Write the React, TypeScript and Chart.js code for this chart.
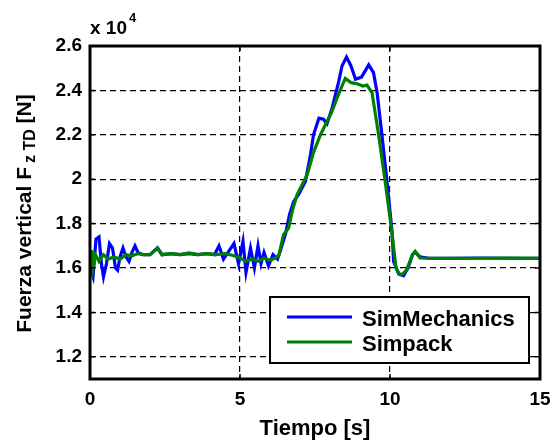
import React, { useEffect, useRef } from "react";
import { Chart, registerables } from "chart.js";

Chart.register(...registerables);

// Axis ticks (force in units of 10^4 N)
const xTicks = [0, 5, 10, 15];
const yTicks = [1.2, 1.4, 1.6, 1.8, 2.0, 2.2, 2.4, 2.6];
const seriesLabels = ["SimMechanics", "Simpack"];
const seriesColors = ["#0000ff", "#008000"];

// SimMechanics: time [s] and force [x10^4 N]
const simMechT = [
  0, 0.05, 0.1, 0.2, 0.3, 0.38, 0.45, 0.55, 0.65, 0.75, 0.85, 0.92, 1.0, 1.1, 1.2, 1.3, 1.4, 1.5,
  1.6, 1.75, 2.0, 2.25, 2.4, 2.7, 3.0, 3.3, 3.6, 3.9, 4.15, 4.3, 4.45, 4.6, 4.8, 4.95, 5.1, 5.2,
  5.35, 5.48, 5.6, 5.7, 5.8, 5.95, 6.1, 6.25, 6.35, 6.52, 6.65, 6.79, 6.95, 7.18, 7.35, 7.45,
  7.63, 7.78, 7.9, 8.07, 8.29, 8.4, 8.55, 8.7, 8.85, 9.05, 9.29, 9.45, 9.57, 9.73, 9.9, 10.07,
  10.12, 10.29, 10.45, 10.6, 10.75, 10.84, 11.0, 11.3, 12, 13, 14, 15,
];
const simMechV = [
  1.64, 1.58, 1.56, 1.73, 1.74, 1.62, 1.56, 1.62, 1.71, 1.69, 1.6, 1.59, 1.65, 1.69, 1.65, 1.63,
  1.67, 1.7, 1.67, 1.66, 1.66, 1.69, 1.66, 1.665, 1.66, 1.665, 1.66, 1.665, 1.66, 1.7, 1.64, 1.67,
  1.71, 1.62, 1.72, 1.58, 1.69, 1.6, 1.7, 1.62, 1.67, 1.61, 1.66, 1.64, 1.68, 1.755, 1.84, 1.9,
  1.93, 1.99, 2.11, 2.2, 2.275, 2.27, 2.25, 2.32, 2.44, 2.51, 2.55, 2.51, 2.45, 2.46, 2.515,
  2.48, 2.39, 2.2, 1.99, 1.76, 1.63, 1.573, 1.565, 1.6, 1.66, 1.672, 1.65, 1.644, 1.644, 1.645,
  1.644, 1.644,
];

// Simpack: time [s] and force [x10^4 N]
const simpackT = [
  0, 0.05, 0.1, 0.18, 0.3, 0.45, 0.6, 0.8, 1.0, 1.2, 1.4, 1.6, 1.8, 2.0, 2.25, 2.4, 2.7, 3.0,
  3.3, 3.6, 3.9, 4.2, 4.5, 4.8, 5.0, 5.2, 5.4, 5.6, 5.8, 6.0, 6.2, 6.3, 6.45, 6.62, 6.75, 6.9,
  7.05, 7.24, 7.45, 7.68, 7.9, 8.05, 8.23, 8.4, 8.51, 8.7, 8.9, 9.1, 9.23, 9.4, 9.62, 9.84,
  10.07, 10.2, 10.3, 10.4, 10.55, 10.75, 10.84, 11.0, 11.3, 12, 13, 14, 15,
];
const simpackV = [
  1.62, 1.68, 1.6, 1.66, 1.63, 1.66, 1.64, 1.65, 1.64, 1.66, 1.655, 1.665, 1.66, 1.66, 1.69,
  1.66, 1.665, 1.66, 1.668, 1.66, 1.665, 1.66, 1.665, 1.655, 1.645, 1.63, 1.64, 1.63, 1.645,
  1.635, 1.645, 1.66, 1.75, 1.78, 1.86, 1.93, 1.97, 2.02, 2.12, 2.2, 2.26, 2.3, 2.364, 2.42,
  2.454, 2.435, 2.43, 2.42, 2.424, 2.39, 2.2, 1.99, 1.755, 1.6, 1.575, 1.57, 1.59, 1.66, 1.675,
  1.645, 1.644, 1.644, 1.644, 1.645, 1.644,
];

const FONT = '"Liberation Sans", Arial, Helvetica, sans-serif';

const toPoints = (t: number[], v: number[]) => t.map((x, i) => ({ x, y: v[i] }));

export default function App() {
  const ref = useRef<HTMLCanvasElement>(null);

  useEffect(() => {
    document.body.style.margin = "0";
    const canvas = ref.current as HTMLCanvasElement;

    const decor = {
      id: "decor",
      afterDatasetsDraw(chart: any) {
        const { ctx, chartArea } = chart;
        const { left, right, top, bottom } = chartArea;
        const xs = chart.scales.x;
        const ys = chart.scales.y;
        ctx.save();
        ctx.strokeStyle = "#000";
        ctx.setLineDash([]);
        // inward tick marks
        ctx.lineWidth = 1.5;
        const tl = 5;
        ctx.beginPath();
        xTicks.forEach((v) => {
          const px = xs.getPixelForValue(v);
          ctx.moveTo(px, bottom);
          ctx.lineTo(px, bottom - tl);
          ctx.moveTo(px, top);
          ctx.lineTo(px, top + tl);
        });
        yTicks.forEach((v) => {
          const py = ys.getPixelForValue(v);
          ctx.moveTo(left, py);
          ctx.lineTo(left + tl, py);
          ctx.moveTo(right, py);
          ctx.lineTo(right - tl, py);
        });
        ctx.stroke();
        // frame
        ctx.lineWidth = 3;
        ctx.strokeRect(left, top, right - left, bottom - top);
        ctx.restore();
      },
      afterDraw(chart: any) {
        const { ctx, chartArea } = chart;
        const { left, right, top, bottom } = chartArea;
        ctx.save();
        ctx.fillStyle = "#000";
        ctx.textBaseline = "alphabetic";

        // exponent label
        ctx.textAlign = "left";
        ctx.font = `bold 19px ${FONT}`;
        const base = "x 10";
        ctx.fillText(base, left, top - 12);
        const bw = ctx.measureText(base).width;
        ctx.font = `bold 13px ${FONT}`;
        ctx.fillText("4", left + bw + 2, top - 24);

        // x title
        ctx.textAlign = "center";
        ctx.font = `bold 22px ${FONT}`;
        ctx.fillText("Tiempo [s]", (left + right) / 2, 435);

        // y title (rotated) with subscript
        const mainFont = `bold 21px ${FONT}`;
        const subFont = `bold 16px ${FONT}`;
        const p1 = "Fuerza vertical F";
        const p2 = "z TD";
        const p3 = " [N]";
        ctx.font = mainFont;
        const w1 = ctx.measureText(p1).width;
        const w3 = ctx.measureText(p3).width;
        ctx.font = subFont;
        const w2 = ctx.measureText(p2).width;
        const gap = 4;
        const total = w1 + gap + w2 + w3;
        ctx.translate(31, (top + bottom) / 2 + 1);
        ctx.rotate(-Math.PI / 2);
        ctx.textAlign = "left";
        let x0 = -total / 2;
        ctx.font = mainFont;
        ctx.fillText(p1, x0, 0);
        x0 += w1 + gap;
        ctx.font = subFont;
        ctx.fillText(p2, x0, 4);
        x0 += w2;
        ctx.font = mainFont;
        ctx.fillText(p3, x0, 0);
        ctx.restore();

        // legend box
        ctx.save();
        const bx = right - 270;
        const by = bottom - 82;
        const bwid = 259;
        const bh = 66;
        ctx.fillStyle = "#fff";
        ctx.fillRect(bx, by, bwid, bh);
        ctx.strokeStyle = "#000";
        ctx.lineWidth = 2;
        ctx.strokeRect(bx, by, bwid, bh);
        ctx.font = `bold 22px ${FONT}`;
        ctx.textAlign = "left";
        ctx.textBaseline = "alphabetic";
        chart.data.datasets
          .slice()
          .sort((a: any, b: any) => a.legendIndex - b.legendIndex)
          .forEach((ds: any, i: number) => {
            const ly = by + 20 + i * 25;
            ctx.strokeStyle = ds.borderColor;
            ctx.lineWidth = 3;
            ctx.beginPath();
            ctx.moveTo(bx + 17, ly);
            ctx.lineTo(bx + 82, ly);
            ctx.stroke();
            ctx.fillStyle = "#000";
            ctx.fillText(ds.label, bx + 92, ly + 9);
          });
        ctx.restore();
      },
    };

    const chart = new Chart(canvas, {
      type: "line",
      data: {
        datasets: [
          {
            label: seriesLabels[0],
            data: toPoints(simMechT, simMechV),
            borderColor: seriesColors[0],
            backgroundColor: seriesColors[0],
            borderWidth: 3.2,
            pointRadius: 0,
            tension: 0,
            order: 2,
            legendIndex: 0,
          } as any,
          {
            label: seriesLabels[1],
            data: toPoints(simpackT, simpackV),
            borderColor: seriesColors[1],
            backgroundColor: seriesColors[1],
            borderWidth: 3.2,
            pointRadius: 0,
            tension: 0,
            order: 1,
            legendIndex: 1,
          } as any,
        ],
      },
      options: {
        responsive: false,
        animation: false,
        devicePixelRatio: 1,
        layout: { padding: { left: 0, top: 46, right: 12, bottom: 0 } },
        plugins: { legend: { display: false }, tooltip: { enabled: false } },
        scales: {
          x: {
            type: "linear",
            min: 0,
            max: 15,
            afterBuildTicks: (s: any) => {
              s.ticks = xTicks.map((value) => ({ value }));
            },
            afterFit: (s: any) => {
              s.height = 63;
              s.paddingLeft = 0;
              s.paddingRight = 0;
            },
            ticks: {
              color: "#000",
              font: { family: FONT, size: 19, weight: "bold" },
              padding: 9,
              maxRotation: 0,
              callback: (v: any) => String(v),
            },
            grid: { color: "#000", lineWidth: 1.2, drawTicks: false },
            border: { display: false, dash: [6, 4] },
          },
          y: {
            type: "linear",
            min: 1.1,
            max: 2.6,
            afterBuildTicks: (s: any) => {
              s.ticks = yTicks.map((value) => ({ value }));
            },
            afterFit: (s: any) => {
              s.width = 90;
              s.paddingTop = 0;
              s.paddingBottom = 0;
            },
            ticks: {
              color: "#000",
              font: { family: FONT, size: 19, weight: "bold" },
              padding: 8,
              callback: (v: any) => String(Number(Number(v).toFixed(1))),
            },
            grid: { color: "#000", lineWidth: 1.2, drawTicks: false },
            border: { display: false, dash: [6, 4] },
          },
        },
      },
      plugins: [decor],
    });

    return () => chart.destroy();
  }, []);

  return (
    <canvas
      ref={ref}
      width={552}
      height={442}
      style={{ display: "block", width: 552, height: 442 }}
    />
  );
}
